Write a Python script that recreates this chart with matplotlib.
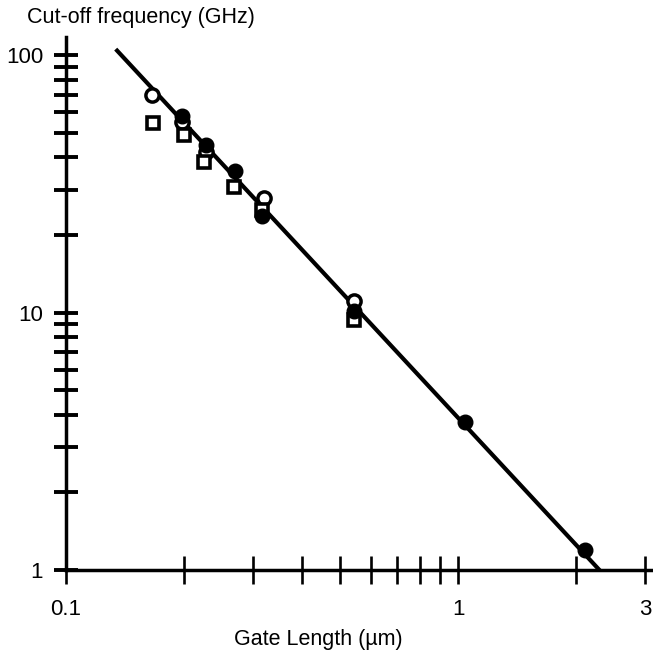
import numpy as np
import matplotlib.pyplot as plt
from matplotlib import font_manager
from matplotlib.ticker import FixedLocator, NullFormatter

# font: narrow sans if there is one
names = set(f.name for f in font_manager.fontManager.ttflist)
fam = 'Liberation Sans Narrow' if 'Liberation Sans Narrow' in names else 'Liberation Sans'
plt.rcParams['font.family'] = [fam, 'DejaVu Sans']

# data
line_x = [0.135, 2.29]
line_y = [104, 1.0]

filled_x = [0.198, 0.228, 0.269, 0.316, 0.541, 1.04, 2.11]
filled_y = [58, 44.7, 35.5, 23.6, 10.1, 3.77, 1.2]

open_x = [0.166, 0.198, 0.228, 0.319, 0.541]
open_y = [70, 55, 42, 27.8, 11.1]

square_x = [0.167, 0.1995, 0.225, 0.268, 0.316, 0.541]
square_y = [54.6, 48.9, 38.5, 30.8, 25, 9.35]

x_major = [0.1, 1, 3]
x_major_labels = ['0.1', '1', '3']
x_minor = [0.2, 0.3, 0.4, 0.5, 0.6, 0.7, 0.8, 0.9, 2]
y_major = [1, 10, 100]
y_major_labels = ['1', '10', '100']
y_minor = [2, 3, 4, 5, 6, 7, 8, 9, 20, 30, 40, 50, 60, 70, 80, 90]

fig = plt.figure(figsize=(6.53, 6.55), dpi=100)
ax = fig.add_axes([66/653, 85/655, 585/653, 533/655])

ax.plot(line_x, line_y, color='black', lw=3, zorder=2, clip_on=True)
ax.plot(open_x, open_y, 'o', ms=9.5, mfc='white', mec='black', mew=2.5, zorder=3, clip_on=False)
ax.plot(square_x, square_y, 's', ms=9, mfc='white', mec='black', mew=2.6, zorder=4, clip_on=False)
ax.plot(filled_x, filled_y, 'o', ms=10.5, color='black', zorder=5, clip_on=False)

ax.set_xscale('log')
ax.set_yscale('log')
ax.set_xlim(0.1, 3.1)
ax.set_ylim(1, 117.5)

ax.xaxis.set_major_locator(FixedLocator(x_major))
ax.xaxis.set_minor_locator(FixedLocator(x_minor))
ax.yaxis.set_major_locator(FixedLocator(y_major))
ax.yaxis.set_minor_locator(FixedLocator(y_minor))
ax.set_xticklabels(x_major_labels)
ax.set_yticklabels(y_major_labels)
ax.xaxis.set_minor_formatter(NullFormatter())
ax.yaxis.set_minor_formatter(NullFormatter())

for s in ['top', 'right']:
    ax.spines[s].set_visible(False)
for s in ['left', 'bottom']:
    ax.spines[s].set_linewidth(2.5)

ax.tick_params(axis='x', which='both', direction='inout', length=20, width=1.9, labelsize=16, pad=11)
ax.tick_params(axis='y', which='both', direction='inout', length=17, width=2.8, labelsize=16, pad=8)

fig.text(27/653, 1 - 17/655, 'Cut-off frequency (GHz)', ha='left', va='center', fontsize=15.5)
fig.text(318/653, 1 - 640/655, 'Gate Length (µm)', ha='center', va='center', fontsize=15.5)

plt.savefig('out.png', dpi=100)
